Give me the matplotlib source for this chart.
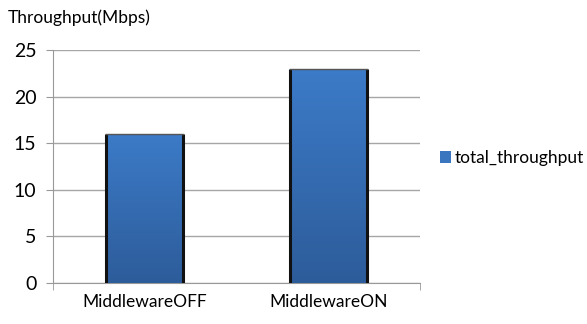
import numpy as np
import matplotlib.pyplot as plt
from matplotlib.colors import LinearSegmentedColormap

categories = ['MiddlewareOFF', 'MiddlewareON']
total_throughput = [16, 23]
y_ticks = [0, 5, 10, 15, 20, 25]

plt.rcParams['font.family'] = ['Lato', 'DejaVu Sans']

fig = plt.figure(figsize=(5.87, 3.24), dpi=100)
ax = fig.add_axes([0.0903, 0.1265, 0.625, 0.7192])

x = np.arange(len(categories))
bars = ax.bar(x, total_throughput, width=0.42, color='#3a76c0',
              edgecolor='none', zorder=3, label='total_throughput')

# vertical gradient inside each bar, dark edges on the sides
grad = LinearSegmentedColormap.from_list('bar', ['#2d5c9a', '#3c7bc8'])
for b in bars:
    x0, w, h = b.get_x(), b.get_width(), b.get_height()
    img = ax.imshow(np.linspace(0, 1, 256).reshape(-1, 1), cmap=grad,
                    extent=[x0, x0 + w, 0, h], origin='lower',
                    aspect='auto', zorder=3)
    img.set_clip_path(b)
    ax.plot([x0, x0], [0, h], color='#111111', lw=2.2, zorder=4,
            solid_capstyle='butt')
    ax.plot([x0 + w, x0 + w], [0, h], color='#111111', lw=2.2, zorder=4,
            solid_capstyle='butt')
    ax.plot([x0, x0 + w], [h, h], color='#555555', lw=1.0, zorder=4)

ax.set_xlim(-0.5, 1.5)
ax.set_ylim(0, 25)
ax.set_yticks(y_ticks)
ax.set_xticks(x)
ax.set_xticklabels(categories, fontsize=12.5)
ax.set_xticks([-0.5, 1.5], minor=True)
ax.tick_params(axis='x', which='major', length=0, pad=8)
ax.tick_params(axis='x', which='minor', length=5, color='#999999')
ax.tick_params(axis='y', length=5, color='#999999', labelsize=14, pad=7)

ax.grid(axis='y', color='#a6a6a6', lw=1.0, zorder=0)
ax.set_axisbelow(True)
for s in ['top', 'right']:
    ax.spines[s].set_visible(False)
for s in ['left', 'bottom']:
    ax.spines[s].set_color('#999999')

fig.text(0.013, 0.945, 'Throughput(Mbps)', fontsize=12.5, va='center')

ax.legend(loc='center left', bbox_to_anchor=(1.056, 0.536), frameon=False,
          fontsize=12.5, handlelength=0.6, handleheight=0.6,
          handletextpad=0.2, borderaxespad=0, borderpad=0)

fig.savefig('out.png', dpi=100)
